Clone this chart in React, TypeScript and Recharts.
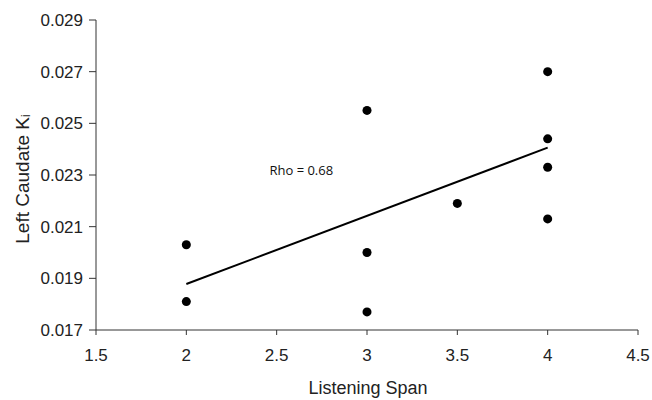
import { ComposedChart, Scatter, XAxis, YAxis, ZAxis, ReferenceDot } from "recharts";

const spanPoints = [
  { span: 2, ki: 0.0203 },
  { span: 2, ki: 0.0181 },
  { span: 3, ki: 0.0255 },
  { span: 3, ki: 0.02 },
  { span: 3, ki: 0.0177 },
  { span: 3.5, ki: 0.0219 },
  { span: 4, ki: 0.027 },
  { span: 4, ki: 0.0244 },
  { span: 4, ki: 0.0233 },
  { span: 4, ki: 0.0213 },
];

const fitLine = [
  { span: 2, ki: 0.01878 },
  { span: 4, ki: 0.02406 },
];

const xTicks = [1.5, 2, 2.5, 3, 3.5, 4, 4.5];
const yTicks = [0.017, 0.019, 0.021, 0.023, 0.025, 0.027, 0.029];

const rhoLabel = { span: 2.46, ki: 0.02317, text: "Rho = 0.68" };

const font = "'Liberation Sans', Arial, sans-serif";
const axisColor = "#333";

function YLabel() {
  return (
    <text
      x={22}
      y={179}
      transform="rotate(-90 22 179)"
      textAnchor="middle"
      dominantBaseline="central"
      fontFamily={font}
      fontSize={19}
      fill="#222"
    >
      Left Caudate K<tspan fontSize={12} dy={4}>i</tspan>
    </text>
  );
}

function XLabel() {
  return (
    <text x={368} y={388} textAnchor="middle" dominantBaseline="central" fontFamily={font} fontSize={18} fill="#222">
      Listening Span
    </text>
  );
}

export default function App() {
  return (
    <div style={{ position: "absolute", left: 0, top: 0, width: 652, height: 400, background: "#fff" }}>
      <ComposedChart width={652} height={400} margin={{ top: 20, right: 14, bottom: 0, left: 0 }}>
        <XAxis
          type="number"
          dataKey="span"
          domain={[1.5, 4.5]}
          ticks={xTicks}
          tickFormatter={(v) => String(v)}
          tickSize={5}
          tickMargin={14}
          height={70}
          stroke={axisColor}
          tick={{ fill: "#222", fontSize: 17, fontFamily: font }}
          label={<XLabel />}
        />
        <YAxis
          type="number"
          dataKey="ki"
          domain={[0.017, 0.029]}
          ticks={yTicks}
          tickFormatter={(v) => v.toFixed(3)}
          tickSize={7}
          tickMargin={6}
          width={96}
          stroke={axisColor}
          tick={{ fill: "#222", fontSize: 17, fontFamily: font }}
          label={<YLabel />}
        />
        <ZAxis range={[95, 95]} />
        <Scatter
          data={fitLine}
          line={{ stroke: "#000", strokeWidth: 2 }}
          shape={() => <g />}
          isAnimationActive={false}
        />
        <Scatter data={spanPoints} fill="#000" shape="circle" isAnimationActive={false} />
        <ReferenceDot
          x={rhoLabel.span}
          y={rhoLabel.ki}
          r={0}
          stroke="none"
          label={{ value: rhoLabel.text, position: "right", offset: 0, fill: "#111", fontSize: 13, fontFamily: "'Open Sans', sans-serif" }}
        />
      </ComposedChart>
    </div>
  );
}
